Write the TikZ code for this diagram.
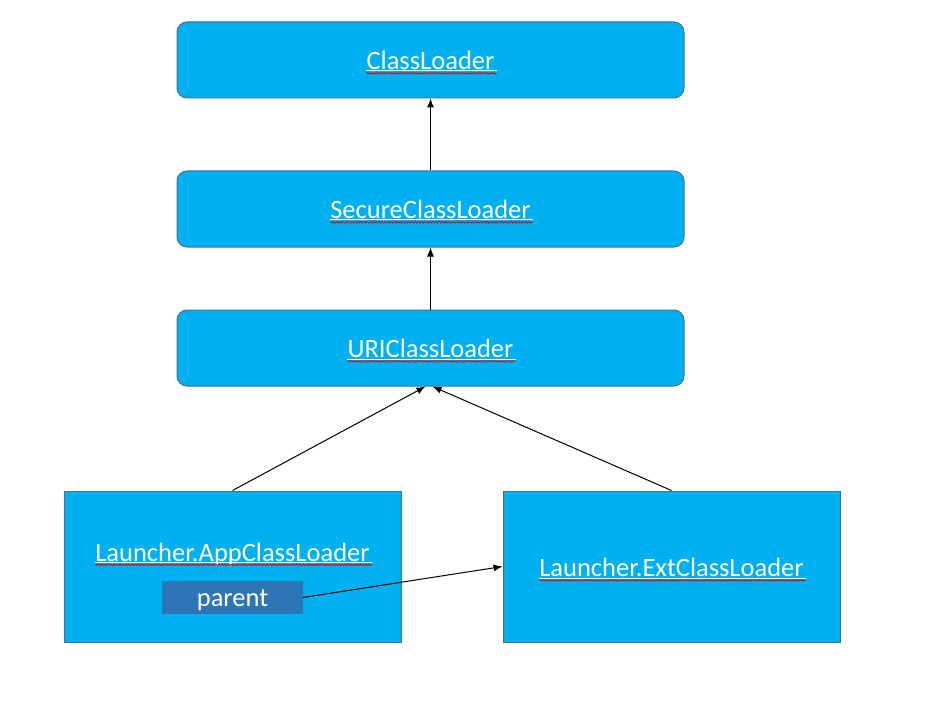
\documentclass[tikz,border=0pt]{standalone}
\usepackage{fontspec}
\setmainfont{Carlito}
\usetikzlibrary{arrows.meta,decorations.pathmorphing}
\definecolor{boxfill}{HTML}{00B0F0}
\definecolor{boxedge}{HTML}{41719C}
\definecolor{parentfill}{HTML}{2E75B6}
\tikzset{
  rbox/.style={draw=boxedge, fill=boxfill, line width=1pt, rounded corners=10pt,
    minimum width=507pt, minimum height=76pt, inner sep=0pt},
  sbox/.style={draw=boxedge, fill=boxfill, line width=1pt,
    minimum width=337pt, minimum height=151pt, inner sep=0pt},
  pbox/.style={fill=parentfill, minimum width=141pt, minimum height=33pt, inner sep=0pt},
  lbl/.style={text=white, inner sep=0pt, anchor=base, font=\fontsize{26.5}{30}\selectfont},
  conn/.style={line width=1pt, -{Latex[length=9pt,width=7pt]}},
  uline/.style={draw=white, line width=1pt},
  wavy/.style={draw=red!85!black, line width=0.7pt, decorate,
    decoration={snake, amplitude=0.8pt, segment length=3pt}}
}
\newcommand{\spellmarks}[1]{%
  \draw[uline] ([yshift=-1.5pt]#1.base west) -- ([yshift=-1.5pt,xshift=2pt]#1.base east);
  \draw[wavy] ([yshift=-3.8pt]#1.base west) -- ([yshift=-3.8pt,xshift=2pt]#1.base east);
}
\begin{document}
\begin{tikzpicture}[x=1pt,y=-1pt]
\useasboundingbox (0,0) rectangle (925,703);
\node[rbox] (cl) at (430.5,60) {};
\node[rbox] (sec) at (430.5,209) {};
\node[rbox] (uri) at (430.5,348) {};
\node[sbox] (app) at (232.5,566.5) {};
\node[sbox] (ext) at (671.5,566.5) {};
\node[pbox] (par) at (232.5,597.5) {};

\node[lbl] (clt) at (430.5,69.5) {ClassLoader};
\node[lbl] (sect) at (430.5,218.5) {SecureClassLoader};
\node[lbl] (urit) at (430.5,357.5) {URIClassLoader};
\node[lbl] (appt) at (232.5,561) {Launcher.AppClassLoader};
\node[lbl] (extt) at (671.5,576.5) {Launcher.ExtClassLoader};
\node[lbl] (part) at (232.5,606) {parent};
\spellmarks{clt}
\spellmarks{sect}
\spellmarks{urit}
\spellmarks{appt}
\spellmarks{extt}

\draw[conn] (sec.north) -- (cl.south);
\draw[conn] (uri.north) -- (sec.south);
\draw[conn] (app.north) -- ([xshift=-5pt]uri.south);
\draw[conn] (ext.north) -- ([xshift=2pt]uri.south);
\draw[conn] (par.east) -- (ext.west);
\end{tikzpicture}
\end{document}
